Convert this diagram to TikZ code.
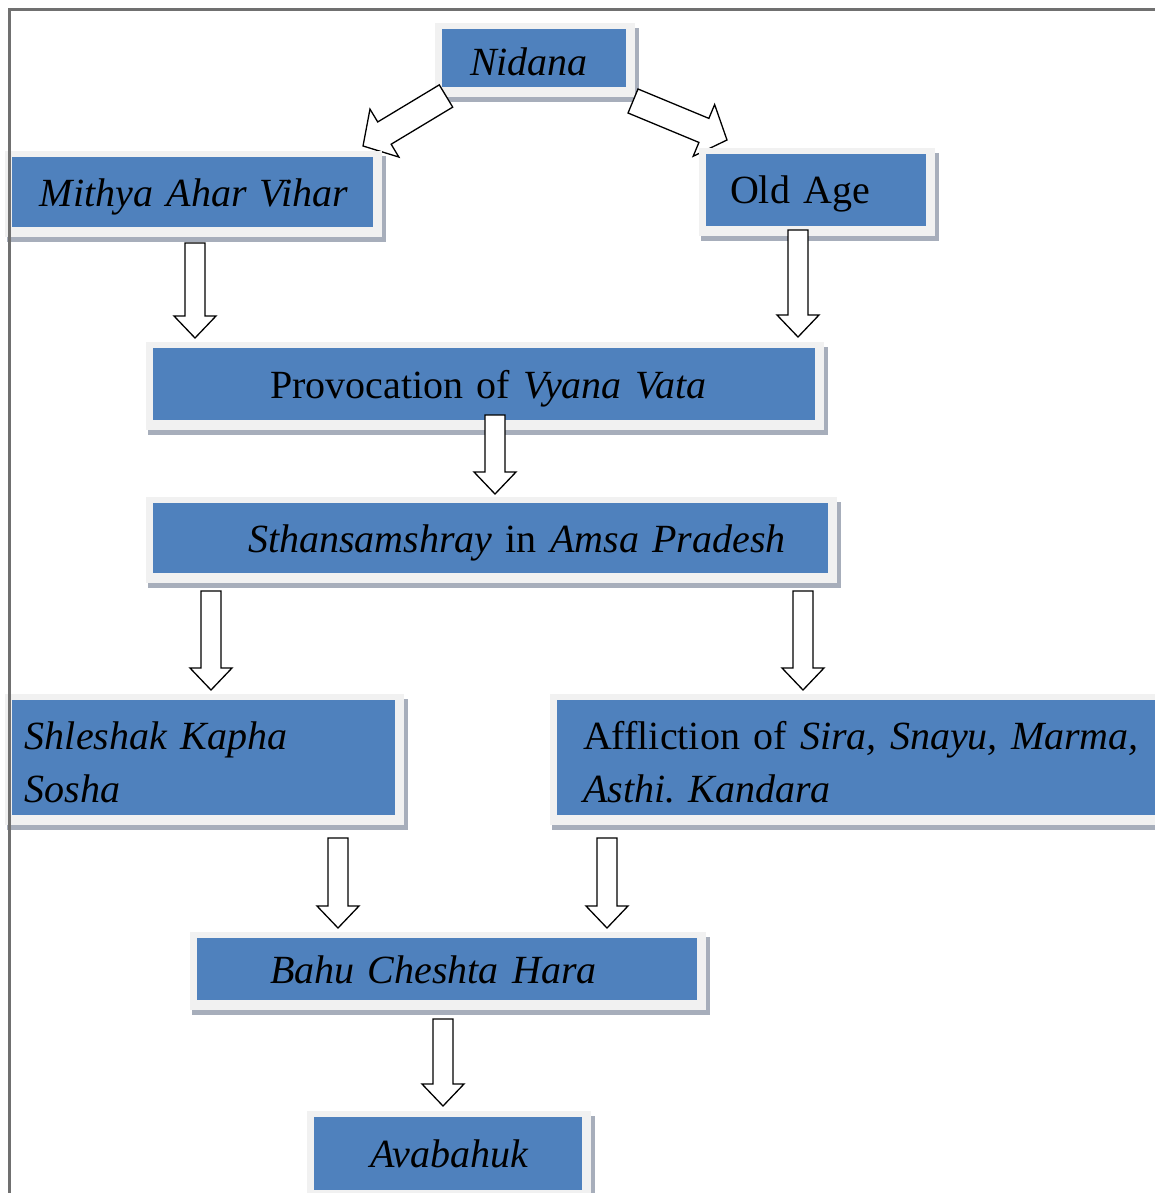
\documentclass[tikz,border=0pt]{standalone}
\usepackage{fontspec}
\setmainfont{Liberation Serif}
\frenchspacing
\definecolor{boxblue}{HTML}{4F81BD}
\definecolor{framec}{HTML}{F1F1F1}
\definecolor{shadowc}{HTML}{A7AEBB}
\definecolor{linec}{HTML}{707070}
\tikzset{
  bluebox/.style={fill=boxblue, inner sep=0pt, align=left, font=\fontsize{40}{53}\selectfont},
  oneline/.style={text height=32pt, text depth=4pt},
  blockarr/.style={draw=black, fill=white, line width=1.3pt, line join=miter}
}
% box with light frame and shadow: name, x1, y1, x2, y2 (blue area), options, text
\newcommand{\bbox}[7]{%
  \fill[shadowc] ({#2-5},{#3-1}) rectangle ({#4+13},{#5+15});
  \fill[framec] ({#2-7},{#3-6}) rectangle ({#4+9},{#5+10});
  \pgfmathsetmacro{\bbw}{#4-#2}%
  \pgfmathsetmacro{\bbh}{#5-#3}%
  \node[bluebox, text width=\bbw pt, minimum height=\bbh pt, #6] (#1) at ({(#2+#4)/2},{(#3+#5)/2}) {#7};}
% hollow block arrow: start, end, shaft half width, head half width, head length
\newcommand{\blockarrow}[5]{%
  \path #1; \pgfgetlastxy{\bax}{\bay}%
  \path #2; \pgfgetlastxy{\bbx}{\bby}%
  \pgfmathsetmacro{\bang}{atan2(\bby-\bay,\bbx-\bax)}%
  \pgfmathsetmacro{\blen}{veclen(\bbx-\bax,\bby-\bay)}%
  \begin{scope}[shift={(\bax,\bay)}, rotate=\bang]
    \draw[blockarr] (0pt,-#3pt) -- ({\blen pt-#5pt},-#3pt) -- ({\blen pt-#5pt},-#4pt)
      -- (\blen pt,0pt) -- ({\blen pt-#5pt},#4pt) -- ({\blen pt-#5pt},#3pt) -- (0pt,#3pt) -- cycle;
  \end{scope}}
\begin{document}
\begin{tikzpicture}[x=1pt, y=-1pt]
\useasboundingbox (0,0) rectangle (1155,1193);
\clip (0,0) rectangle (1155,1193);
\fill[white] (0,0) rectangle (1155,1193);

% arrow end points
\coordinate (a1s) at (446,96);  \coordinate (a1e) at (363,146);
\coordinate (a2s) at (633,101); \coordinate (a2e) at (727,140);
\coordinate (a3s) at (195,243); \coordinate (a3e) at (195,338);
\coordinate (a4s) at (798,230); \coordinate (a4e) at (798,337);
\coordinate (a5s) at (495,415); \coordinate (a5e) at (495,494);
\coordinate (a6s) at (211,591); \coordinate (a6e) at (211,690);
\coordinate (a7s) at (803,591); \coordinate (a7e) at (803,690);
\coordinate (a8s) at (338,838); \coordinate (a8e) at (338,928);
\coordinate (a9s) at (607,838); \coordinate (a9e) at (607,928);
\coordinate (a10s) at (443,1019); \coordinate (a10e) at (443,1106);

\bbox{nidana}{442}{29}{626}{87}{text height=36pt, text depth=0pt}{\hspace*{28pt}\itshape Nidana}

\blockarrow{(a1s)}{(a1e)}{13}{28}{25}
\blockarrow{(a2s)}{(a2e)}{13}{28}{25}

\bbox{mithya}{12}{157}{373}{227}{oneline}{\hspace*{28pt}\itshape Mithya Ahar Vihar}
\bbox{oldage}{706}{154}{926}{226}{oneline}{\hspace*{24pt}Old Age}
\bbox{prov}{153}{348}{815}{420}{oneline}{\hspace*{117pt}Provocation of \textit{Vyana Vata}}
\bbox{sth}{153}{503}{828}{573}{oneline}{\hspace*{95pt}\textit{Sthansamshray} in \textit{Amsa Pradesh}}
\bbox{shl}{12}{700}{395}{815}{}{\hspace*{13pt}\rule{0pt}{38pt}\textit{Shleshak Kapha}\\\hspace*{13pt}\textit{Sosha}}
\bbox{aff}{557}{700}{1175}{815}{}{\hspace*{26pt}\rule{0pt}{38pt}Affliction of \textit{Sira, Snayu, Marma,}\\\hspace*{26pt}\textit{Asthi. Kandara}}
\bbox{bahu}{197}{938}{697}{1000}{oneline}{\hspace*{73pt}\itshape Bahu Cheshta Hara}
\bbox{avab}{314}{1117}{582}{1190}{oneline}{\hspace*{56pt}\itshape Avabahuk}

\blockarrow{(a3s)}{(a3e)}{10}{21}{22}
\blockarrow{(a4s)}{(a4e)}{10}{21}{22}
\blockarrow{(a5s)}{(a5e)}{10}{21}{22}
\blockarrow{(a6s)}{(a6e)}{10}{21}{22}
\blockarrow{(a7s)}{(a7e)}{10}{21}{22}
\blockarrow{(a8s)}{(a8e)}{10}{21}{22}
\blockarrow{(a9s)}{(a9e)}{10}{21}{22}
\blockarrow{(a10s)}{(a10e)}{10}{21}{22}

% page frame (top and left only)
\draw[linec, line width=3pt] (9,1200) -- (9,10) -- (1160,10);
\end{tikzpicture}
\end{document}
